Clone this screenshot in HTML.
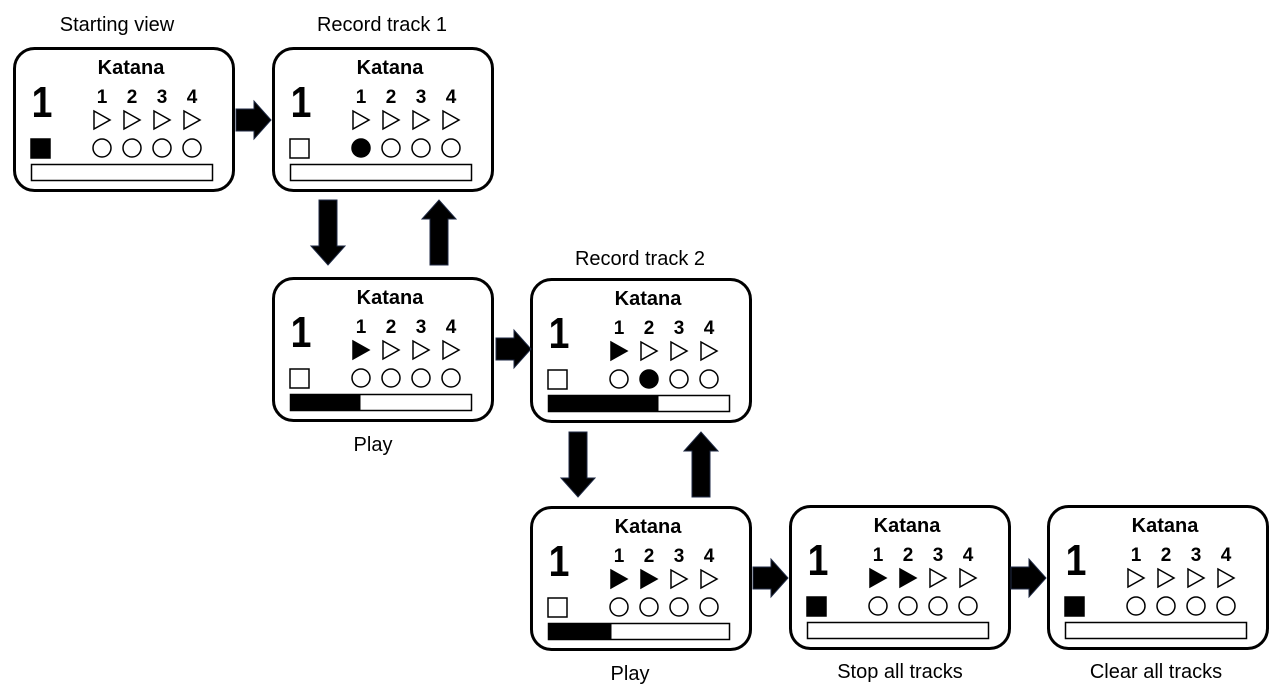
<!DOCTYPE html>
<html><head><meta charset="utf-8">
<style>
html,body{margin:0;padding:0;background:#fff;}
svg{display:block;font-family:"Liberation Sans",Calibri,sans-serif;}
</style></head>
<body>
<svg id="d" width="1271" height="700" viewBox="0 0 1271 700" xmlns="http://www.w3.org/2000/svg"></svg>
<script>
// panel states: x, y, stopFilled, play[4], rec[4], barFill(px of 181)
const states = [
  {name:'starting-view-panel', x:13, y:47, stop:true, play:[0,0,0,0], rec:[0,0,0,0], bar:0},
  {name:'record-track-1-panel', x:272, y:47, stop:false, play:[0,0,0,0], rec:[1,0,0,0], bar:0},
  {name:'play-1-panel', x:272, y:277, stop:false, play:[1,0,0,0], rec:[0,0,0,0], bar:70},
  {name:'record-track-2-panel', x:530, y:278, stop:false, play:[1,0,0,0], rec:[0,1,0,0], bar:110},
  {name:'play-2-panel', x:530, y:506, stop:false, play:[1,1,0,0], rec:[0,0,0,0], bar:63},
  {name:'stop-all-panel', x:789, y:505, stop:true, play:[1,1,0,0], rec:[0,0,0,0], bar:0},
  {name:'clear-all-panel', x:1047, y:505, stop:true, play:[0,0,0,0], rec:[0,0,0,0], bar:0}
];
const labels = [
  ['Starting view',117,31],['Record track 1',382,31],['Record track 2',640,265],
  ['Play',373,451],['Play',630,680],['Stop all tracks',900,678],['Clear all tracks',1156,678]
];
const arrows = [
  ['r',236,120],['r',496,349],['r',753,578],['r',1011,578],
  ['d',328,200],['u',439,200],['d',578,432],['u',701,432]
];
const svg=document.getElementById('d');
const NS='http://www.w3.org/2000/svg';
function mk(tag,attrs,parent,text){const e=document.createElementNS(NS,tag);for(const k in attrs)e.setAttribute(k,attrs[k]);if(text!==undefined)e.textContent=text;(parent||svg).appendChild(e);return e;}

states.forEach(s=>{
  const g=mk('g',{transform:`translate(${s.x},${s.y})`});
  
  
  mk('rect',{x:1.5,y:1.5,width:219,height:142,rx:20,ry:20,fill:'#fff',stroke:'#000','stroke-width':3},g);
  const t=mk('text',{x:118,y:27,'font-size':20,'font-weight':'bold','text-anchor':'middle'},g,'Katana');
  
  
  const big=mk('text',{x:0,y:0,'font-size':44,'font-weight':'bold','text-anchor':'middle',transform:'translate(29,70) scale(0.85,1)'},g,'1');
  
  
  const cx=[89,119,149,179];
  cx.forEach((c,i)=>{
    const n=mk('text',{x:c,y:56,'font-size':19,'font-weight':'bold','text-anchor':'middle'},g,String(i+1));
    
    
    const tri=mk('polygon',{points:`${c-8},${64} ${c+8},${73} ${c-8},${82}`,fill:s.play[i]?'#000':'#fff',stroke:'#000','stroke-width':1.5},g);
    
    
    const ci=mk('circle',{cx:c,cy:101,r:9,fill:s.rec[i]?'#000':'#fff',stroke:'#000','stroke-width':1.5},g);
    
    
  });
  const sq=mk('rect',{x:18,y:92,width:19,height:19,fill:s.stop?'#000':'#fff',stroke:'#000','stroke-width':1.5},g);
  
  
  const bar=mk('rect',{x:18.5,y:117.5,width:181,height:16,fill:'#fff',stroke:'#000','stroke-width':1.5},g);
  
  
  if(s.bar>0){
    const f=mk('rect',{x:18.5,y:117.5,width:s.bar,height:16,fill:'#000'},g);
    
    
  }
});

arrows.forEach(a=>{
  const [d,x,y]=a;let pts;
  if(d==='r') pts=`${x},${y-11} ${x+18},${y-11} ${x+18},${y-19} ${x+35},${y} ${x+18},${y+19} ${x+18},${y+11} ${x},${y+11}`;
  else if(d==='d') pts=`${x-9},${y} ${x+9},${y} ${x+9},${y+46} ${x+17},${y+46} ${x},${y+65} ${x-17},${y+46} ${x-9},${y+46}`;
  else pts=`${x-9},${y+65} ${x+9},${y+65} ${x+9},${y+19} ${x+17},${y+19} ${x},${y} ${x-17},${y+19} ${x-9},${y+19}`;
  const p=mk('polygon',{points:pts,fill:'#000',stroke:'#1f2a44','stroke-width':1});
  
  
});

labels.forEach(l=>{
  const t=mk('text',{x:l[1],y:l[2],'font-size':20,'text-anchor':'middle',fill:'#000'},svg,l[0]);
  
  
});
</script>
</body></html>
